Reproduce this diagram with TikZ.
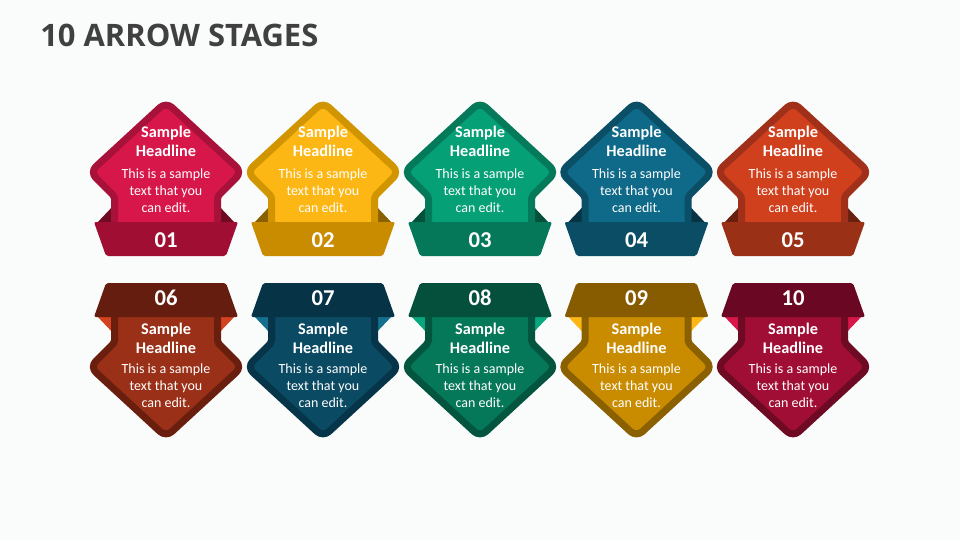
\documentclass[tikz,border=0pt]{standalone}
\usepackage{fontspec}
\setmainfont{Carlito}
\newfontfamily\titlefont{Open Sans}
% fill, border, band, fold
\definecolor{aF}{HTML}{D7174A}\definecolor{aB}{HTML}{A8123A}\definecolor{aN}{HTML}{A10E33}\definecolor{aT}{HTML}{6E0A22}
\definecolor{bF}{HTML}{FDB714}\definecolor{bB}{HTML}{D09500}\definecolor{bN}{HTML}{C98C00}\definecolor{bT}{HTML}{8A6100}
\definecolor{cF}{HTML}{06A077}\definecolor{cB}{HTML}{047A5A}\definecolor{cN}{HTML}{047858}\definecolor{cT}{HTML}{03503B}
\definecolor{dF}{HTML}{0E6A88}\definecolor{dB}{HTML}{0A4F66}\definecolor{dN}{HTML}{0A4D65}\definecolor{dT}{HTML}{063444}
\definecolor{eF}{HTML}{D0401D}\definecolor{eB}{HTML}{A0301A}\definecolor{eN}{HTML}{9A3015}\definecolor{eT}{HTML}{6A200E}
\definecolor{fF}{HTML}{9A3018}\definecolor{fB}{HTML}{6A1F0E}\definecolor{fN}{HTML}{641D0E}\definecolor{fT}{HTML}{D4431F}
\definecolor{gF}{HTML}{0B4A63}\definecolor{gB}{HTML}{06354A}\definecolor{gN}{HTML}{063346}\definecolor{gT}{HTML}{15708F}
\definecolor{hF}{HTML}{06785A}\definecolor{hB}{HTML}{04553F}\definecolor{hN}{HTML}{04503C}\definecolor{hT}{HTML}{08A67C}
\definecolor{iF}{HTML}{C98C00}\definecolor{iB}{HTML}{8A6000}\definecolor{iN}{HTML}{875C00}\definecolor{iT}{HTML}{FDB714}
\definecolor{jF}{HTML}{A10E35}\definecolor{jB}{HTML}{6E0A24}\definecolor{jN}{HTML}{6A0823}\definecolor{jT}{HTML}{D7174A}
\definecolor{titlegray}{HTML}{404040}
\definecolor{bgc}{HTML}{FAFCFC}
\tikzset{
  numtxt/.style={anchor=base, inner sep=0pt, text=white, font=\bfseries\fontsize{17}{20}\selectfont},
  hltxt/.style={anchor=base, inner sep=0pt, text=white, font=\bfseries\fontsize{12.2}{14}\selectfont},
  bdtxt/.style={anchor=base, inner sep=0pt, text=white, font=\fontsize{10.5}{12.5}\selectfont},
}
% #1 cx, #2 letter for colours
\newcommand\stageshape[2]{%
  \fill[#2T] (#1-70,224) -- (#1-52,205) -- (#1-52,224) -- cycle;
  \fill[#2T] (#1+70,224) -- (#1+52,205) -- (#1+52,224) -- cycle;
  \filldraw[fill=#2F, draw=#2B, line width=5.25pt, line join=round]
    (#1,228) [sharp corners] -- (#1+51.5,228) [rounded corners=1.5pt] -- (#1+51.5,196.5)
    [rounded corners=6pt] -- (#1+76,172) -- (#1,102) -- (#1-76,172)
    [rounded corners=1.5pt] -- (#1-51.5,196.5) [sharp corners] -- (#1-51.5,228) -- cycle;
  \fill[#2N, rounded corners=1.5pt] (#1-72,222) -- (#1+72,222) -- (#1+60,256) -- (#1-60,256) -- cycle;
}
% #1 cx, #2 id, #3 number, #4 number baseline, #5 headline baseline, #6 body baseline
\newcommand\stagetext[6]{%
  \node[numtxt] (n#2) at (#1,#4) {#3};
  \node[hltxt] (ha#2) at (#1,#5) {Sample};
  \node[hltxt] (hb#2) at (#1,#5+19) {Headline};
  \node[bdtxt] (ba#2) at (#1,#6) {This is a sample};
  \node[bdtxt] (bb#2) at (#1,#6+17) {text that you};
  \node[bdtxt] (bc#2) at (#1,#6+34) {can edit.};
}
\begin{document}
\begin{tikzpicture}[x=0.75pt,y=-0.75pt]
\fill[bgc] (0,0) rectangle (960,540);
\useasboundingbox (0,0) rectangle (960,540);
\node[anchor=west, inner sep=0pt, text=titlegray, font=\titlefont\bfseries\fontsize{23.2}{27}\selectfont] (title) at (40,35) {10 ARROW STAGES};
% top row
\stageshape{166}{a}
\stageshape{323}{b}
\stageshape{480}{c}
\stageshape{636.5}{d}
\stageshape{793}{e}
% bottom row (mirrored)
\begin{scope}[yshift=-404.25pt, yscale=-1]
\stageshape{166}{f}
\stageshape{323}{g}
\stageshape{480}{h}
\stageshape{636.5}{i}
\stageshape{793}{j}
\end{scope}
\stagetext{166}{1}{01}{247}{137}{178}
\stagetext{323}{2}{02}{247}{137}{178}
\stagetext{480}{3}{03}{247}{137}{178}
\stagetext{636.5}{4}{04}{247}{137}{178}
\stagetext{793}{5}{05}{247}{137}{178}
\stagetext{166}{6}{06}{305}{334}{373}
\stagetext{323}{7}{07}{305}{334}{373}
\stagetext{480}{8}{08}{305}{334}{373}
\stagetext{636.5}{9}{09}{305}{334}{373}
\stagetext{793}{10}{10}{305}{334}{373}
\end{tikzpicture}
\end{document}
